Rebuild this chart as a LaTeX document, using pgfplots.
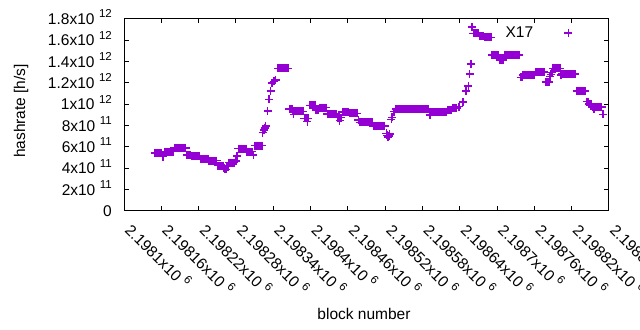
\documentclass[border=0pt]{standalone}
\usepackage{fontspec}
\setmainfont{Liberation Sans}
\usepackage{pgfplots}
\pgfplotsset{compat=1.18}
\definecolor{dv}{HTML}{9400D3}
\newcommand\fs{\fontsize{15.5bp}{18bp}\selectfont}
\newcommand\sx[1]{\hspace{4.5bp}\raisebox{6.5bp}{\fontsize{11.5bp}{12bp}\selectfont #1}}
\begin{document}
\begin{tikzpicture}
\useasboundingbox (0,0) rectangle (640bp,330bp);
\begin{axis}[
  at={(124bp,119bp)}, anchor=south west,
  scale only axis, width=485bp, height=192bp,
  xmin=100, xmax=880, ymin=0, ymax=1.8,
  axis line style={line width=1bp},
  tick style={line width=1bp, black},
  major tick length=4.5bp, tick align=inside,
  xtick={100,160,...,880},
  xticklabels={2.1981x10\sx{6},2.19816x10\sx{6},2.19822x10\sx{6},2.19828x10\sx{6},2.19834x10\sx{6},2.1984x10\sx{6},2.19846x10\sx{6},2.19852x10\sx{6},2.19858x10\sx{6},2.19864x10\sx{6},2.1987x10\sx{6},2.19876x10\sx{6},2.19882x10\sx{6},2.19888x10\sx{6}},
  ytick={0,0.2,0.4,0.6,0.8,1,1.2,1.4,1.6,1.8},
  yticklabels={0,2x10\sx{11},4x10\sx{11},6x10\sx{11},8x10\sx{11},1x10\sx{12},1.2x10\sx{12},1.4x10\sx{12},1.6x10\sx{12},1.8x10\sx{12}},
  xticklabel style={font=\fs, rotate=-45, anchor=base west, inner sep=0pt},
  xticklabel shift=20bp,
  yticklabel style={font=\fs, anchor=base east, inner sep=0pt, yshift=-5.5bp},
  yticklabel shift=12bp,
  xlabel={block number}, ylabel={hashrate [h/s]},
  xlabel style={font=\fs, at={(axis description cs:0.4948,-0.5625)}, anchor=base},
  ylabel style={font=\fs, at={(axis description cs:-0.2041,0.521)}, anchor=base},
  legend plot pos=right,
  legend cell align=right,
  legend style={draw=none, fill=none, font=\fs, inner sep=0pt, nodes={inner sep=0pt},
    at={(axis description cs:0.925,0.96)}, anchor=north east},
  legend image code/.code={\path (0bp,0bp); \draw[#1,only marks] plot coordinates {(35bp,0bp)};},
]
\addplot[only marks, mark=+, mark size=4bp, color=dv, mark options={line width=1.45bp}] coordinates {
(150,0.544)(152,0.544)(154,0.544)(156,0.544)(158,0.544)(160,0.544)
(163,0.51)
(165,0.556)(167,0.556)(169,0.556)(171,0.556)(173,0.556)(175,0.556)(177,0.556)(179,0.556)
(181,0.59)(183,0.59)(185,0.59)(187,0.59)(189,0.59)(191,0.59)(193,0.59)(195,0.59)(197,0.59)(199,0.59)
(201,0.527)(203,0.527)(205,0.527)(207,0.527)
(209,0.513)(211,0.513)(213,0.513)(215,0.513)(217,0.513)(219,0.513)(221,0.513)
(223,0.487)(225,0.487)(227,0.487)(229,0.487)(231,0.487)(233,0.487)(235,0.487)
(237,0.472)(239,0.472)(241,0.472)(243,0.472)(245,0.472)(247,0.472)(249,0.472)
(251,0.425)(253,0.425)(255,0.425)(257,0.425)(259,0.425)
(261,0.405)(262,0.392)(264,0.39)(266,0.415)(268,0.415)
(269,0.453)(271,0.453)(273,0.453)(275,0.453)(277,0.453)
(280,0.47)(282,0.516)
(284,0.585)(286,0.585)(288,0.585)(290,0.585)(292,0.585)(294,0.585)(296,0.585)
(298,0.556)(300,0.556)(302,0.556)(304,0.556)(306,0.556)
(308,0.525)
(310,0.612)(312,0.612)(314,0.612)(316,0.612)(318,0.612)(320,0.612)(322,0.612)
(323,0.734)(325,0.76)(327,0.78)(328,0.797)(331,0.9375)(333,1.047)(336,1.125)(338,1.2)(341,1.215)(344,1.228)
(348,1.338)(350,1.338)(352,1.338)(354,1.338)(356,1.338)(358,1.338)(360,1.338)(362,1.338)(364,1.338)
(366,0.956)(368,0.956)(370,0.956)
(372,0.935)(374,0.935)(376,0.935)(378,0.935)(380,0.935)(382,0.935)(384,0.935)(386,0.935)(388,0.935)
(373,0.906)
(390,0.869)(392,0.869)(394,0.869)(396,0.869)
(395,0.837)
(399,0.99)(401,0.99)(403,0.99)(405,0.99)(407,0.99)
(409,0.947)(411,0.947)(413,0.947)
(415,0.969)(417,0.969)(419,0.969)(421,0.969)(423,0.969)(425,0.969)
(427,0.909)(429,0.909)(431,0.909)(433,0.909)(435,0.909)(437,0.909)(439,0.909)(441,0.909)
(443,0.876)(445,0.876)(447,0.876)(449,0.876)
(447,0.847)
(451,0.93)(453,0.93)(455,0.93)(457,0.93)(459,0.93)(461,0.93)
(463,0.916)(465,0.916)(467,0.916)(469,0.916)(471,0.916)(473,0.916)(475,0.916)
(477,0.853)
(479,0.831)(481,0.831)(483,0.831)(485,0.831)(487,0.831)(489,0.831)(491,0.831)(493,0.831)(495,0.831)(497,0.831)(499,0.831)
(501,0.797)(503,0.797)(505,0.797)(507,0.797)(509,0.797)(511,0.797)(513,0.797)(515,0.797)(517,0.797)(519,0.797)
(522,0.728)(523,0.71)(524,0.697)(525,0.69)(526,0.705)(527,0.72)
(530,0.86)(531,0.878)(534,0.931)
(537,0.956)(539,0.956)(541,0.956)(543,0.956)(545,0.956)(547,0.956)(549,0.956)(551,0.956)(553,0.956)(555,0.956)(557,0.956)(559,0.956)(561,0.956)(563,0.956)(565,0.956)(567,0.956)(569,0.956)(571,0.956)(573,0.956)(575,0.956)(577,0.956)(579,0.956)(581,0.956)(583,0.956)(585,0.956)(587,0.956)(589,0.956)
(592,0.925)(594,0.925)(596,0.925)(598,0.925)(600,0.925)(602,0.925)(604,0.925)(606,0.925)(608,0.925)(610,0.925)(612,0.925)(614,0.925)(616,0.925)(618,0.925)
(592,0.9)
(621,0.944)(623,0.944)(625,0.944)(627,0.944)
(629,0.966)(631,0.966)(633,0.966)(635,0.966)
(639,0.978)(645,1.02)(650,1.125)(654,1.172)(656,1.284)(658,1.378)(660,1.725)
(662,1.666)(664,1.666)(666,1.666)(668,1.666)(670,1.666)
(672,1.64)(674,1.64)(676,1.64)(678,1.64)
(680,1.628)(682,1.628)(684,1.628)(686,1.628)(688,1.628)(690,1.628)
(692,1.4625)(694,1.4625)(696,1.4625)(698,1.4625)(700,1.4625)(702,1.4625)
(704,1.416)(706,1.416)(708,1.416)(710,1.416)
(712,1.4625)(714,1.4625)(716,1.4625)(718,1.4625)(720,1.4625)(722,1.4625)(724,1.4625)(726,1.4625)(728,1.4625)(730,1.4625)(732,1.4625)(734,1.4625)(736,1.4625)
(738,1.253)(740,1.253)
(742,1.275)(744,1.275)(746,1.275)(748,1.275)(750,1.275)(752,1.275)(754,1.275)(756,1.275)(758,1.275)(760,1.275)
(762,1.303)(764,1.303)(766,1.303)(768,1.303)(770,1.303)(772,1.303)(774,1.303)(776,1.303)
(778,1.209)(780,1.209)(782,1.209)(784,1.209)
(785,1.26)(786,1.28)(788,1.297)
(790,1.338)(792,1.338)(794,1.338)(796,1.338)(798,1.338)(800,1.338)(802,1.338)
(803,1.275)
(804,1.284)(806,1.284)(808,1.284)(810,1.284)(812,1.284)(814,1.284)(816,1.284)(818,1.284)(820,1.284)(822,1.284)(824,1.284)(826,1.284)
(828,1.125)(830,1.125)(832,1.125)(834,1.125)(836,1.125)(838,1.125)(840,1.125)(842,1.125)
(844,1.025)(846,1.025)
(848,1.003)(850,1.003)(852,1.003)
(854,0.975)(856,0.975)(858,0.975)(860,0.975)(862,0.975)(864,0.975)(866,0.975)(868,0.975)
(856,0.956)(870,0.906)
};
\addlegendentry{X17}
\end{axis}
\end{tikzpicture}
\end{document}
